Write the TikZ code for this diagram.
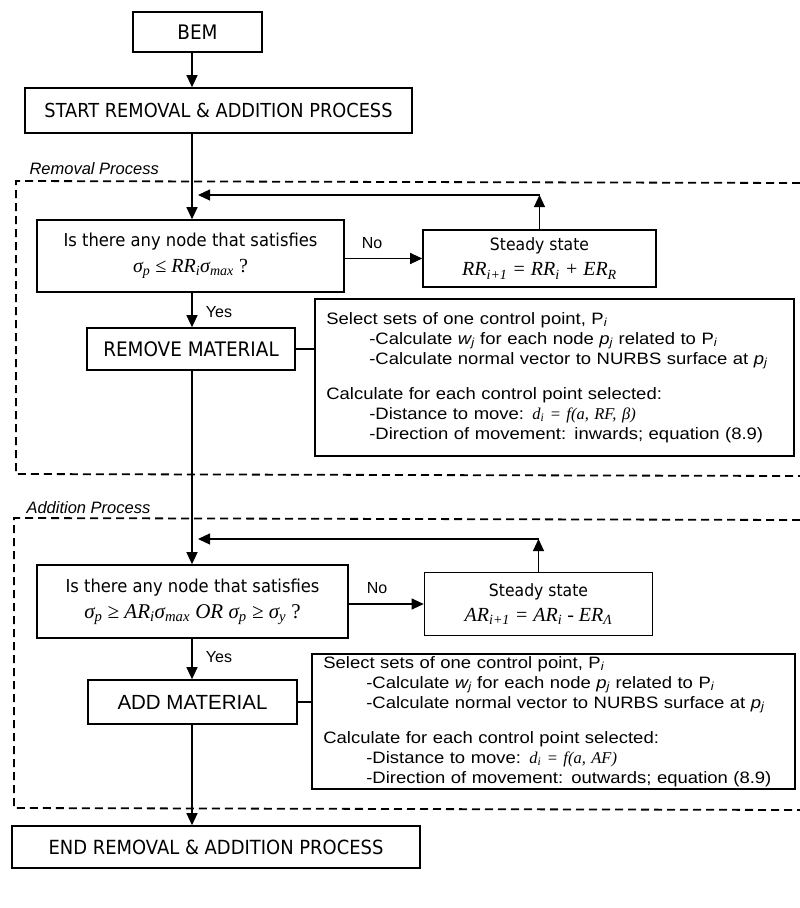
\documentclass[tikz,border=0pt]{standalone}
\usepackage{fontspec}
\setmainfont{DejaVu Sans}[FakeStretch=0.92]
\newfontfamily\ari{Liberation Sans}
\newfontfamily\ariw{Liberation Sans}[FakeStretch=1.12]
\newfontfamily\tms{Liberation Serif}
\usetikzlibrary{arrows.meta}
% italic serif formula text and subscripts
\newcommand\mth[1]{{\tms\itshape\fontsize{20}{22}\selectfont #1}}
\newcommand\smth[1]{{\tms\itshape\fontsize{16.5}{20}\selectfont #1}}
\newcommand\lo[1]{\textsubscript{#1}}
\newcommand\ai[1]{{\itshape #1}}
\begin{document}
\begin{tikzpicture}[x=1pt,y=-1pt,
  box/.style={draw,line width=1.6pt,inner sep=0pt,align=center,font=\fontsize{17.8}{26}\selectfont},
  infobox/.style={draw,line width=1.6pt,inner sep=0pt,align=left,anchor=north west,
    font=\ariw\fontsize{16.5}{20}\selectfont},
  arr/.style={line width=1.1pt,-{Triangle[length=12pt,width=11pt]}},
  ln/.style={line width=1.1pt},
  zone/.style={line width=1.8pt,dash pattern=on 8pt off 5pt},
  zonelabel/.style={anchor=west,font=\ari\itshape\fontsize{16.5}{18}\selectfont},
  tag/.style={font=\ari\fontsize{16}{18}\selectfont}]
\useasboundingbox (0,0) rectangle (800,908);

% main flow
\node[box,font=\fontsize{20}{22}\selectfont,minimum width=129pt,minimum height=40pt] (bem) at (197.5,32) {BEM};
\node[box,font=\fontsize{19.3}{22}\selectfont,minimum width=387pt,minimum height=45pt] (start) at (218.5,110.5) {START REMOVAL \& ADDITION PROCESS};
\coordinate (spine) at (192,0);
\draw[arr] (bem.south -| spine) -- (start.north -| spine);

% ---- removal process ----
\draw[zone] (800,183) -- (16,181) -- (16,474) -- (800,476);
\node[zonelabel] (remlbl) at (26,169) {Removal Process};

\node[box,minimum width=307pt,minimum height=72pt] (dec1) at (190.5,256)
  {Is there any node that satisfies\\ \mth{σ\lo{p} ≤ RR\lo{i}σ\lo{max}} {\tms\fontsize{20}{22}\selectfont ?}};
\node[box,font=\fontsize{17}{25}\selectfont,minimum width=233pt,minimum height=57pt] (ss1) at (539.5,258.5)
  {Steady state\\ \mth{RR\lo{i+1} = RR\lo{i} + ER\lo{R}}};
\node[box,font=\fontsize{20}{22}\selectfont,minimum width=208pt,minimum height=42pt] (rem) at (191,349) {REMOVE MATERIAL};
\node[infobox,minimum width=479pt,minimum height=157pt,text width=470pt] (info1) at (314,298)
  {\hspace*{7pt}Select sets of one control point, P\lo{\ai{i}}\\
   \hspace*{50pt}-Calculate \ai{w\lo{j}} for each node \ai{p\lo{j}} related to P\lo{\ai{i}}\\
   \hspace*{50pt}-Calculate normal vector to NURBS surface at \ai{p\lo{j}}\\[15pt]
   \hspace*{7pt}Calculate for each control point selected:\\
   \hspace*{50pt}-Distance to move: \smth{d\lo{i} = f(a, RF, β)}\\
   \hspace*{50pt}-Direction of movement: inwards; equation (8.9)};

\coordinate (fb1) at (192,195);
\draw[arr] (start.south -| spine) -- (dec1.north -| spine);
\draw[arr] (dec1.east |- ss1.west) -- (ss1.west);
\node[tag] (no1) at (372,243) {No};
\draw[arr] (ss1.north) -- (ss1.north |- fb1);
\draw[arr] (ss1.north |- fb1) -- ([xshift=6pt]fb1);
\draw[arr] (dec1.south -| spine) -- (rem.north -| spine);
\node[tag] (yes1) at (219,312) {Yes};
\draw[ln] (rem.east) -- (rem.east -| info1.west);

% ---- addition process ----
\draw[zone] (800,520) -- (14,518) -- (14,808) -- (800,810);
\node[zonelabel] (addlbl) at (23,508) {Addition Process};

\node[box,minimum width=311pt,minimum height=73pt] (dec2) at (192.5,601.5)
  {Is there any node that satisfies\\ {\tms\itshape\fontsize{21}{22}\selectfont σ\lo{p} ≥ AR\lo{i}σ\lo{max} OR σ\lo{p} ≥ σ\lo{y} {\upshape ?}}};
\node[box,font=\fontsize{17}{25}\selectfont,minimum width=228pt,minimum height=63pt] (ss2) at (538.5,604)
  {Steady state\\ \mth{AR\lo{i+1} = AR\lo{i} - ER\lo{Λ}}};
\node[box,font=\ari\fontsize{20.5}{22}\selectfont,minimum width=209pt,minimum height=44pt] (add) at (192.5,702) {ADD MATERIAL};
\node[infobox,minimum width=483pt,minimum height=135pt,text width=474pt] (info2) at (311,653)
  {\hspace*{7pt}Select sets of one control point, P\lo{\ai{i}}\\
   \hspace*{50pt}-Calculate \ai{w\lo{j}} for each node \ai{p\lo{j}} related to P\lo{\ai{i}}\\
   \hspace*{50pt}-Calculate normal vector to NURBS surface at \ai{p\lo{j}}\\[15pt]
   \hspace*{7pt}Calculate for each control point selected:\\
   \hspace*{50pt}-Distance to move: \smth{d\lo{i} = f(a, AF)}\\
   \hspace*{50pt}-Direction of movement: outwards; equation (8.9)};

\coordinate (fb2) at (192,539);
\draw[arr] (rem.south -| spine) -- (dec2.north -| spine);
\draw[arr] (dec2.east |- ss2.west) -- (ss2.west);
\node[tag] (no2) at (377,588) {No};
\draw[arr] (ss2.north) -- (ss2.north |- fb2);
\draw[arr] (ss2.north |- fb2) -- ([xshift=6pt]fb2);
\draw[arr] (dec2.south -| spine) -- (add.north -| spine);
\node[tag] (yes2) at (219,657) {Yes};
\draw[ln] (add.east) -- (add.east -| info2.west);

% end
\node[box,font=\fontsize{19.5}{22}\selectfont,minimum width=408pt,minimum height=42pt] (end) at (216,847) {END REMOVAL \& ADDITION PROCESS};
\draw[arr] (add.south -| spine) -- (end.north -| spine);
\end{tikzpicture}
\end{document}
